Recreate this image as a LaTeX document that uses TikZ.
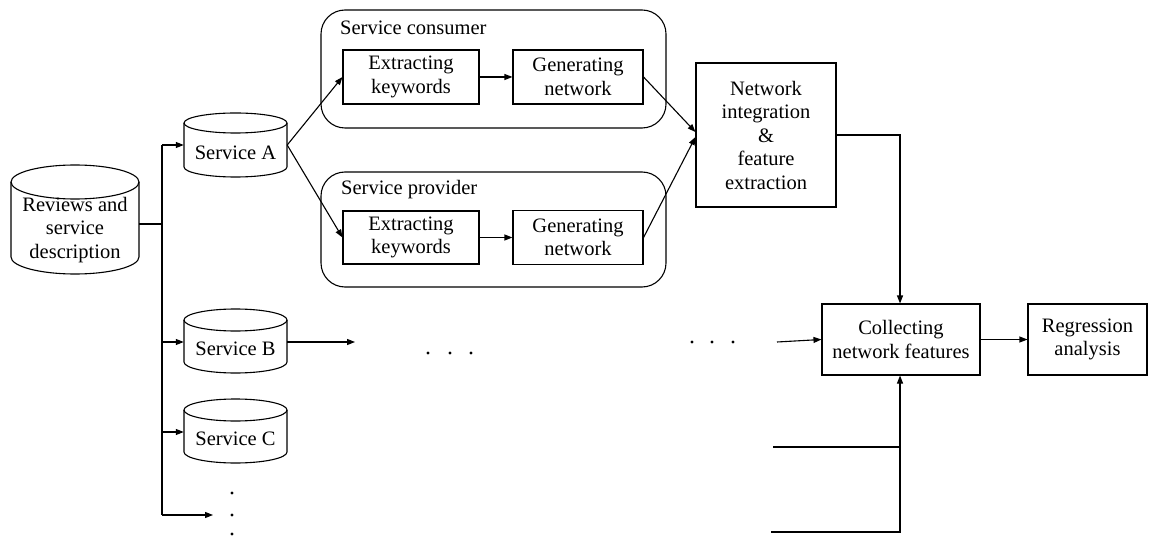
\documentclass[tikz,border=0pt]{standalone}
\usepackage{fontspec}
\setmainfont{Liberation Serif}
\usetikzlibrary{arrows.meta,calc}
\newcommand\mycyl[6]{% name,x1,y1,x2,y2,ry
  \node[inner sep=0pt,minimum width={#4-#2},minimum height={#5-#3}] (#1) at ({(#2+#4)/2},{(#3+#5)/2}) {};
  \draw[ln] (#2,#3+#6) -- (#2,#5-#6) arc[start angle=180,end angle=0,x radius={(#4-#2)/2},y radius=#6] -- (#4,#3+#6);
  \draw[ln] ({(#2+#4)/2},#3+#6) ellipse[x radius={(#4-#2)/2},y radius=#6];
}
\begin{document}
\begin{tikzpicture}[x=1pt,y=-1pt,
  every node/.style={font=\fontsize{20.5}{23.5}\selectfont},
  ln/.style={line width=1.1pt},
  arr/.style={ln,-{Triangle[length=8pt,width=6pt]}},
  blk/.style={draw,ln,inner sep=0pt,align=center},
  grp/.style={draw,ln,rounded corners=24pt,inner sep=0pt},
  lbl/.style={inner sep=0pt,anchor=base},
  dot/.style={fill,circle,inner sep=0pt,minimum size=3.2pt},
]
\useasboundingbox (0,0) rectangle (1150,537);

% cylinders
\mycyl{R}{11}{165}{139}{274}{17}
\node[inner sep=0pt,align=center] (Rt) at (75,230) {Reviews and\\service\\description};
\mycyl{A}{184}{113}{287}{177}{10}
\node[lbl] (At) at (235.5,160) {Service A};
\mycyl{B}{184}{309}{287}{373}{11}
\node[lbl] (Bt) at (235.5,355) {Service B};
\mycyl{C}{184}{399}{287}{463}{11}
\node[lbl] (Ct) at (235.5,445) {Service C};

% groups
\node[grp,minimum width=345,minimum height=118] (SC) at (493.5,69) {};
\node[inner sep=0pt,anchor=base west] (SCt) at (340,35) {Service consumer};
\node[grp,minimum width=345,minimum height=115] (SP) at (493.5,229.5) {};
\node[inner sep=0pt,anchor=base west] (SPt) at (341,195) {Service provider};

\node[blk,minimum width=136,minimum height=54] (E1) at (411,77) {Extracting\\keywords};
\node[blk,minimum width=130,minimum height=54] (G1) at (578,77) {Generating\\network};
\node[blk,minimum width=136,minimum height=53] (E2) at (411,237.5) {Extracting\\keywords};
\node[blk,minimum width=130,minimum height=54] (G2) at (578,237.5) {Generating\\network};

\node[blk,minimum width=140,minimum height=144] (N) at (766,135) {Network\\integration\\\&\\feature\\extraction};
\node[blk,minimum width=158,minimum height=71] (Co) at (901,339.5) {Collecting\\network features};
\node[blk,minimum width=119,minimum height=71] (Rg) at (1087.5,339.5) {Regression\\analysis};

% left bus
\coordinate (j) at (162,224);
\coordinate (jt) at (162,145);
\coordinate (jb) at (162,515);
\coordinate (jB) at (162,342);
\coordinate (jC) at (162,432);
\coordinate (dv) at (213,515);
\draw[ln] (R.east |- j) -- (j);
\draw[ln] (jt) -- (jb);
\draw[arr] (jt) -- (jt -| A.west);
\draw[arr] (jB) -- (jB -| B.west);
\draw[arr] (jC) -- (jC -| C.west);
\draw[arr] (jb) -- (dv);

% service A branches
\draw[arr] (jt -| A.east) -- (E1.west);
\draw[arr] (jt -| A.east) -- (E2.west);
\draw[arr] (E1) -- (G1);
\draw[arr] (E2) -- (G2);
\draw[arr] (G1.east) -- ([yshift=3pt]N.west);
\draw[arr] (G2.east) -- ([yshift=-2pt]N.west);

% integration to collecting
\coordinate (nc) at (900,135);
\draw[arr] (N.east) -- (nc) -- (nc |- Co.north);
\draw[arr] (Co) -- (Rg);

% service B
\coordinate (bo) at (355,342);
\draw[arr] (jB -| B.east) -- (bo);
\coordinate (ci) at (777,342);
\draw[arr] (ci) -- (Co.west);

% bottom lines
\coordinate (b1) at (773,447);
\coordinate (b2) at (771,532);
\coordinate (bc) at (900,532);
\draw[ln] (b1) -- (b1 -| bc);
\draw[arr] (b2) -- (bc) -- (bc |- Co.south);

% dots
\node[dot] (d1) at (428,353) {};
\node[dot] (d2) at (450,353) {};
\node[dot] (d3) at (471,353) {};
\node[dot] (d4) at (692,342) {};
\node[dot] (d5) at (712,342) {};
\node[dot] (d6) at (733,342) {};
\node[dot] (v1) at (232,493) {};
\node[dot] (v2) at (232,515) {};
\node[dot] (v3) at (232,534) {};
\end{tikzpicture}
\end{document}
